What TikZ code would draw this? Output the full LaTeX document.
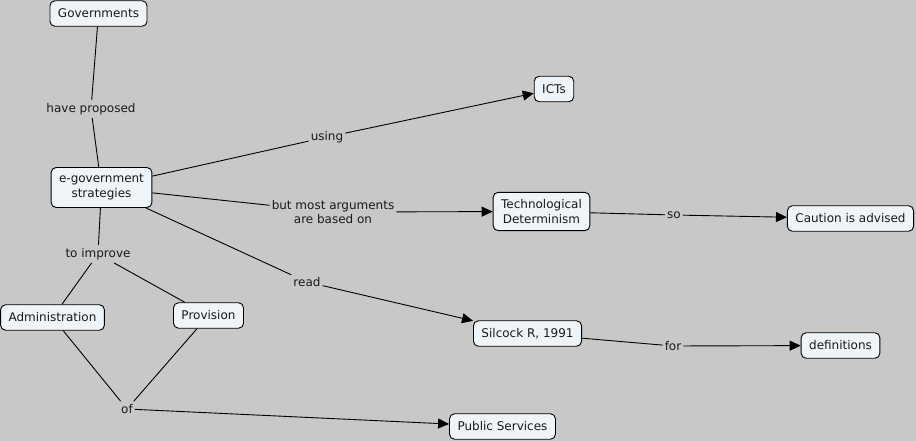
\documentclass[tikz,border=0pt]{standalone}
\usepackage{fontspec}
\setmainfont{DejaVu Sans}
\usetikzlibrary{arrows.meta}
\definecolor{bg}{HTML}{C8C8C8}
\definecolor{cfill}{HTML}{EEF4F7}
\definecolor{txt}{HTML}{1A1A1A}
\begin{document}
\begin{tikzpicture}[x=1pt,y=-1pt,
  concept/.style={draw=black, line width=0.9pt, fill=cfill, rounded corners=5pt,
    font=\fontsize{12}{15}\selectfont, text=txt, inner xsep=8pt, inner ysep=7pt,
    minimum height=25.5pt, align=center},
  lbl/.style={fill=bg, font=\fontsize{12}{14.5}\selectfont, text=txt, inner xsep=2pt, inner ysep=3pt, align=center},
  link/.style={line width=0.9pt, draw=black},
  arr/.style={link, -{Triangle[length=11pt,width=10pt]}}]
\path[use as bounding box, fill=bg] (0,0) rectangle (916,441);

% concepts
\node[concept] (gov) at (98.5,13.5) {Governments};
\node[concept] (egov) at (101.5,187.5) {e-government\\strategies};
\node[concept] (ict) at (554,89) {ICTs};
\node[concept] (td) at (541.5,211.5) {Technological\\Determinism};
\node[concept] (caut) at (850.5,218.5) {Caution is advised};
\node[concept] (sil) at (527.5,333.5) {Silcock R, 1991};
\node[concept] (def) at (840.5,345.5) {definitions};
\node[concept] (pub) at (502.5,426.5) {Public Services};
\node[concept] (adm) at (52.5,317.5) {Administration};
\node[concept] (prov) at (208.5,315.5) {Provision};

% link labels
\node[lbl] (lhp) at (91,109) {have proposed};
\node[lbl] (lus) at (327,137) {using};
\node[lbl] (lbm) at (333,212) {but most arguments\\are based on};
\node[lbl] (lso) at (674,215) {so};
\node[lbl] (lrd) at (307,282) {read};
\node[lbl] (lfor) at (673,346) {for};
\node[lbl] (lti) at (98,254) {to improve};
\node[lbl] (lof) at (127,409) {of};

% connectors
\draw[link] (gov) -- (lhp);
\draw[link] (lhp) -- (egov);
\draw[link] (egov) -- (lus);
\draw[arr] (lus) -- (ict);
\draw[link] (egov) -- (lbm);
\draw[arr] (lbm) -- (td);
\draw[link] (td) -- (lso);
\draw[arr] (lso) -- (caut);
\draw[link] (egov) -- (lrd);
\draw[arr] (lrd) -- (sil);
\draw[link] (sil) -- (lfor);
\draw[arr] (lfor) -- (def);
\draw[link] (egov) -- (lti);
\draw[link] (lti) -- (adm);
\draw[link] (lti) -- (prov);
\draw[link] (adm) -- (lof);
\draw[link] (prov) -- (lof);
\draw[arr] (lof) -- (pub);
\end{tikzpicture}
\end{document}
